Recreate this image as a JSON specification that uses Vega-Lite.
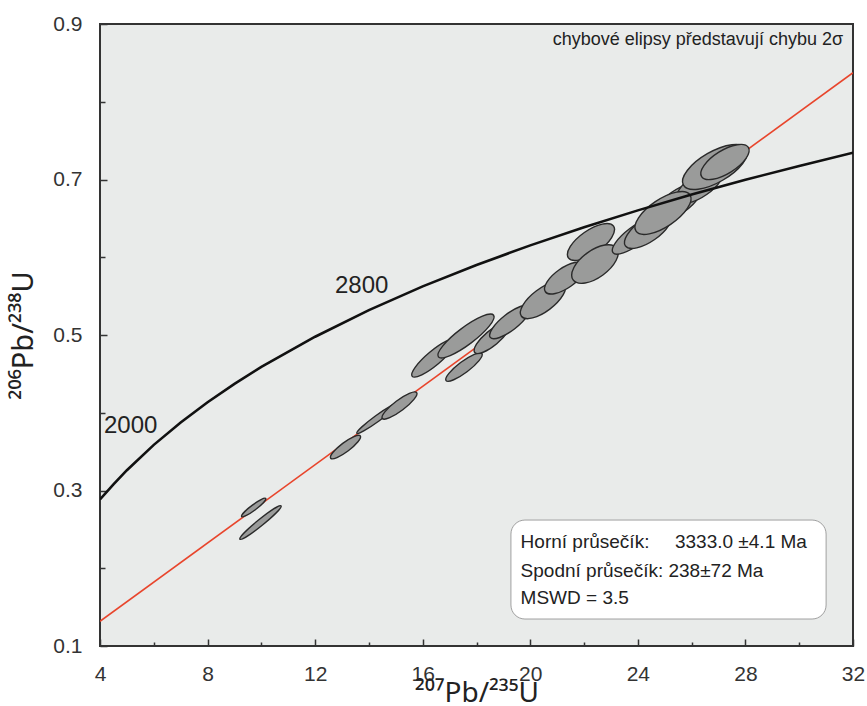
{
  "$schema": "https://vega.github.io/schema/vega-lite/v6.json",
  "width": 753,
  "height": 622,
  "autosize": "none",
  "padding": {"left": 100, "top": 24, "right": 14, "bottom": 60},
  "background": "white",
  "config": {
    "font": "Liberation Sans",
    "view": {"fill": "#e9ebea", "stroke": "#333333", "strokeWidth": 2}
  },
  "encoding": {
    "x": {
      "field": "x", "type": "quantitative",
      "scale": {"domain": [4, 32], "nice": false, "zero": false},
      "axis": {
        "values": [4, 6, 8, 10, 12, 14, 16, 18, 20, 22, 24, 26, 28, 30, 32],
        "labelExpr": "datum.value % 4 === 0 ? datum.label : ''",
        "title": "²⁰⁷Pb/²³⁵U",
        "domain": false, "grid": false,
        "tickSize": {"condition": {"test": "datum.value % 4 === 0", "value": -7}, "value": -4},
        "tickColor": "#333333", "tickWidth": 1.5,
        "labelFontSize": 21, "labelColor": "#333333", "labelPadding": 24, "labelFlush": false,
        "titleFont": "Noto Sans, DejaVu Sans", "titleFontSize": 28, "titleFontWeight": "normal", "titleColor": "#222222", "titlePadding": -5
      }
    },
    "y": {
      "field": "y", "type": "quantitative",
      "scale": {"domain": [0.1, 0.9], "nice": false, "zero": false},
      "axis": {
        "values": [0.1, 0.2, 0.3, 0.4, 0.5, 0.6, 0.7, 0.8, 0.9],
        "labelExpr": "round(datum.value * 10) % 2 === 1 ? format(datum.value, '.1f') : ''",
        "title": "²⁰⁶Pb/²³⁸U",
        "domain": false, "grid": false,
        "tickSize": {"condition": {"test": "round(datum.value * 10) % 2 === 1", "value": -7}, "value": -5},
        "tickColor": "#333333", "tickWidth": 1.5,
        "labelFontSize": 21, "labelColor": "#333333", "labelPadding": 25, "labelFlush": false,
        "titleFont": "Noto Sans, DejaVu Sans", "titleFontSize": 29, "titleFontWeight": "normal", "titleColor": "#222222", "titlePadding": 14
      }
    }
  },
  "layer": [
    {
      "data": {"values": [{"x": 4, "y": 0.1317}, {"x": 32, "y": 0.8373}]},
      "mark": {"type": "line", "color": "#e8452c", "strokeWidth": 1.6, "clip": true}
    },
    {
      "data": {"values": [
        {"id": 1, "x": 9.715, "y": 0.2781, "major": 1.12, "form": "slim", "tilt": -37},
        {"id": 2, "x": 9.968, "y": 0.2588, "major": 1.97, "form": "thin", "tilt": -39},
        {"id": 3, "x": 13.129, "y": 0.3559, "major": 1.38, "form": "narrow", "tilt": -37},
        {"id": 4, "x": 14.319, "y": 0.3929, "major": 1.90, "form": "thin", "tilt": -36},
        {"id": 5, "x": 15.137, "y": 0.4093, "major": 1.60, "form": "narrow", "tilt": -37},
        {"id": 6, "x": 16.420, "y": 0.4704, "major": 2.12, "form": "narrow", "tilt": -40},
        {"id": 7, "x": 17.610, "y": 0.4987, "major": 2.57, "form": "narrow", "tilt": -37},
        {"id": 8, "x": 17.535, "y": 0.4588, "major": 1.67, "form": "narrow", "tilt": -37},
        {"id": 9, "x": 18.576, "y": 0.4961, "major": 1.67, "form": "medium", "tilt": -40},
        {"id": 10, "x": 19.245, "y": 0.5167, "major": 1.86, "form": "medium", "tilt": -38},
        {"id": 11, "x": 20.473, "y": 0.5450, "major": 2.01, "form": "wide", "tilt": -37},
        {"id": 12, "x": 21.291, "y": 0.5733, "major": 1.78, "form": "wide", "tilt": -35},
        {"id": 13, "x": 22.257, "y": 0.6196, "major": 2.05, "form": "wide", "tilt": -35},
        {"id": 14, "x": 22.406, "y": 0.5913, "major": 2.01, "form": "broad", "tilt": -36},
        {"id": 15, "x": 23.894, "y": 0.6273, "major": 2.05, "form": "medium", "tilt": -37},
        {"id": 16, "x": 24.377, "y": 0.6350, "major": 2.05, "form": "wide", "tilt": -35},
        {"id": 17, "x": 25.493, "y": 0.6711, "major": 2.05, "form": "wide", "tilt": -35},
        {"id": 18, "x": 26.311, "y": 0.6929, "major": 2.05, "form": "wide", "tilt": -35},
        {"id": 19, "x": 24.935, "y": 0.6569, "major": 2.42, "form": "wide", "tilt": -34},
        {"id": 20, "x": 26.868, "y": 0.7161, "major": 2.71, "form": "wide", "tilt": -30},
        {"id": 21, "x": 27.240, "y": 0.7225, "major": 2.05, "form": "wide", "tilt": -32}
      ]},
      "mark": {"type": "point", "fill": "#9a9b9a", "stroke": "#2a2a2a", "strokeWidth": 1.4, "opacity": 1, "fillOpacity": 1, "clip": true},
      "encoding": {
        "size": {"field": "major", "type": "quantitative", "scale": {"type": "pow", "exponent": 2, "domain": [0, 3], "range": [0, 6509]}, "legend": null},
        "angle": {"field": "tilt", "type": "quantitative", "scale": null},
        "shape": {
          "field": "form", "type": "nominal", "legend": null,
          "scale": {
            "domain": ["thin", "slim", "narrow", "medium", "wide", "broad"],
            "range": [
              "M -1 0 C -1 -0.0663 -0.5523 -0.12 0 -0.12 C 0.5523 -0.12 1 -0.0663 1 0 C 1 0.0663 0.5523 0.12 0 0.12 C -0.5523 0.12 -1 0.0663 -1 0 Z",
              "M -1 0 C -1 -0.0994 -0.5523 -0.18 0 -0.18 C 0.5523 -0.18 1 -0.0994 1 0 C 1 0.0994 0.5523 0.18 0 0.18 C -0.5523 0.18 -1 0.0994 -1 0 Z",
              "M -1 0 C -1 -0.1381 -0.5523 -0.25 0 -0.25 C 0.5523 -0.25 1 -0.1381 1 0 C 1 0.1381 0.5523 0.25 0 0.25 C -0.5523 0.25 -1 0.1381 -1 0 Z",
              "M -1 0 C -1 -0.1823 -0.5523 -0.33 0 -0.33 C 0.5523 -0.33 1 -0.1823 1 0 C 1 0.1823 0.5523 0.33 0 0.33 C -0.5523 0.33 -1 0.1823 -1 0 Z",
              "M -1 0 C -1 -0.2320 -0.5523 -0.42 0 -0.42 C 0.5523 -0.42 1 -0.2320 1 0 C 1 0.2320 0.5523 0.42 0 0.42 C -0.5523 0.42 -1 0.2320 -1 0 Z",
              "M -1 0 C -1 -0.2762 -0.5523 -0.5 0 -0.5 C 0.5523 -0.5 1 -0.2762 1 0 C 1 0.2762 0.5523 0.5 0 0.5 C -0.5523 0.5 -1 0.2762 -1 0 Z"
            ]
          }
        },
        "order": {"field": "id", "type": "quantitative"}
      }
    },
    {
      "data": {"values": [
        {"x": 4, "y": 0.2885}, {"x": 4.5, "y": 0.3080}, {"x": 5, "y": 0.3261},
        {"x": 6, "y": 0.3587}, {"x": 7, "y": 0.3875}, {"x": 8, "y": 0.4135},
        {"x": 9, "y": 0.4372}, {"x": 10, "y": 0.4589}, {"x": 12, "y": 0.4978},
        {"x": 14, "y": 0.5320}, {"x": 16, "y": 0.5625}, {"x": 18, "y": 0.5901},
        {"x": 20, "y": 0.6153}, {"x": 22, "y": 0.6387}, {"x": 24, "y": 0.6603},
        {"x": 26, "y": 0.6806}, {"x": 28, "y": 0.6996}, {"x": 30, "y": 0.7175},
        {"x": 32, "y": 0.7345}
      ]},
      "mark": {"type": "line", "color": "#111111", "strokeWidth": 2.6, "clip": true}
    },
    {
      "data": {"values": [
        {"x": 6.169, "y": 0.3637, "age": "2000"},
        {"x": 14.76, "y": 0.5439, "age": "2800"}
      ]},
      "mark": {"type": "text", "align": "right", "baseline": "alphabetic", "dx": -1, "dy": -8, "fontSize": 24, "color": "#222222"},
      "encoding": {"text": {"field": "age", "type": "nominal"}}
    },
    {
      "data": {"values": [{"x": 19.28, "x2": 31.0, "y": 0.262, "y2": 0.1347}]},
      "mark": {"type": "rect", "fill": "white", "stroke": "#a0a0a0", "strokeWidth": 1, "cornerRadius": 14},
      "encoding": {"x2": {"field": "x2"}, "y2": {"field": "y2"}}
    },
    {
      "data": {"values": [
        {"x": 19.64, "y": 0.2260, "t": "Horní průsečík:"},
        {"x": 25.38, "y": 0.2260, "t": "3333.0 ±4.1 Ma"},
        {"x": 19.64, "y": 0.1887, "t": "Spodní průsečík: 238±72 Ma"},
        {"x": 19.64, "y": 0.1540, "t": "MSWD = 3.5"}
      ]},
      "mark": {"type": "text", "align": "left", "baseline": "alphabetic", "fontSize": 19, "color": "#222222"},
      "encoding": {"text": {"field": "t", "type": "nominal"}}
    },
    {
      "data": {"values": [{"x": 31.63, "y": 0.873, "t": "chybové elipsy představují chybu 2σ"}]},
      "mark": {"type": "text", "align": "right", "baseline": "alphabetic", "fontSize": 18, "color": "#222222"},
      "encoding": {"text": {"field": "t", "type": "nominal"}}
    }
  ]
}
